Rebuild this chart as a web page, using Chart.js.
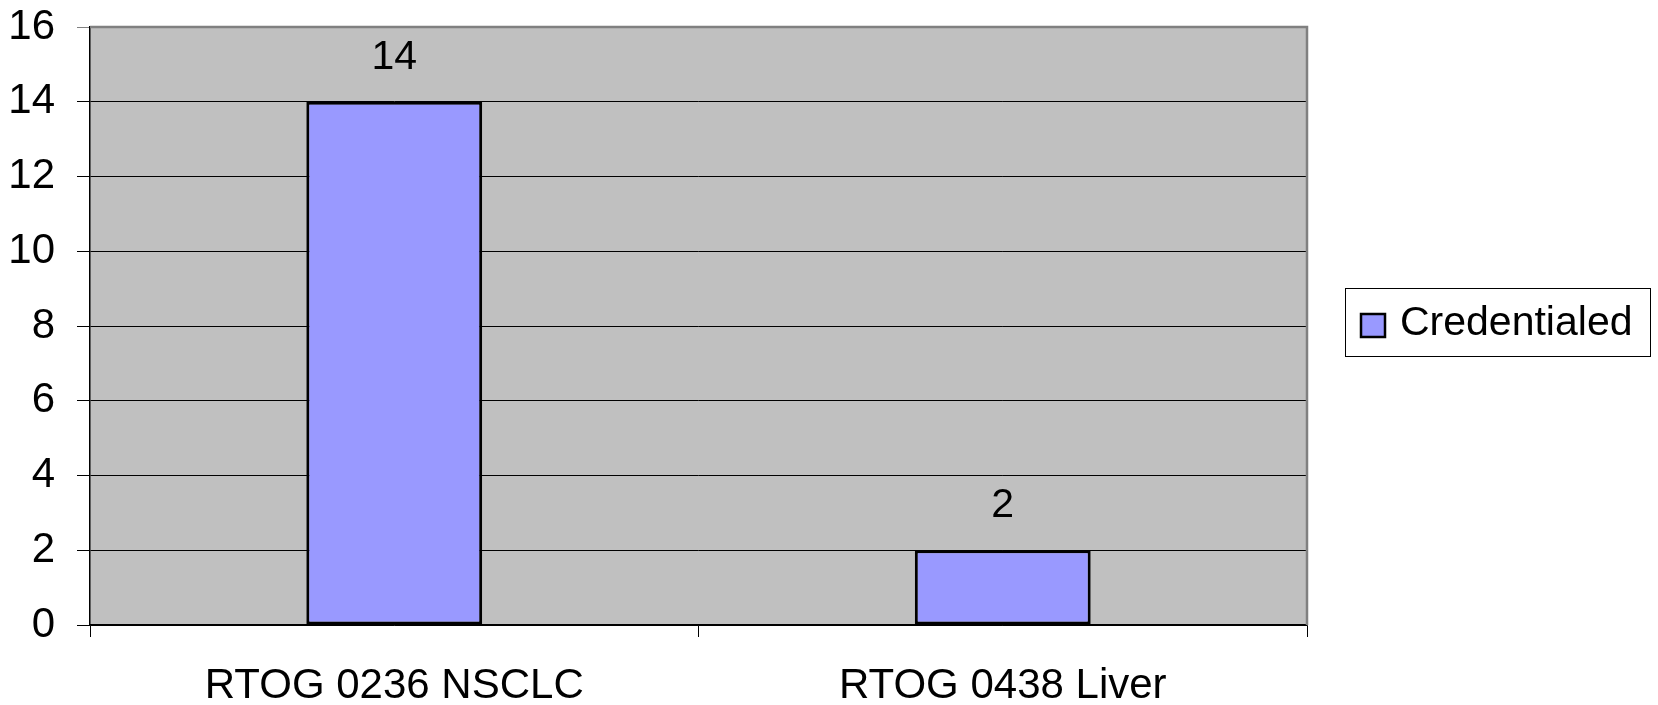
<!DOCTYPE html>
<html lang="en">
<head>
<meta charset="utf-8">
<title>Credentialed</title>
<script src="https://cdn.jsdelivr.net/npm/chart.js"></script>
<style>
	body{ margin: 0; background: #fff; }
	#myChart{ display: block; }
</style>
</head>
<body>
<canvas id="myChart" width="1658" height="705"></canvas>
<script>
// data
const labels = ['RTOG 0236 NSCLC', 'RTOG 0438 Liver'];
const credentialed = [14, 2];
const seriesName = 'Credentialed';
const yTicks = [0, 2, 4, 6, 8, 10, 12, 14, 16];

const FONT = "'Liberation Sans', Arial, sans-serif";

// grey plot area + grey top/right border
const plotBg = {
	id: 'plotBg',
	beforeDraw(chart){
		const {ctx, chartArea: a} = chart;
		ctx.save();
		ctx.fillStyle = '#c0c0c0';
		ctx.fillRect(a.left, a.top, a.right - a.left, a.bottom - a.top);
		ctx.restore();
	},
	afterDraw(chart){
		const {ctx, chartArea: a} = chart;
		ctx.save();
		ctx.strokeStyle = '#808080';
		ctx.lineWidth = 2.5;
		ctx.beginPath();
		ctx.moveTo(a.left, a.top);
		ctx.lineTo(a.right, a.top);
		ctx.lineTo(a.right, a.bottom);
		ctx.stroke();
		ctx.restore();
	}
};

// value labels above bars
const valueLabels = {
	id: 'valueLabels',
	afterDatasetsDraw(chart){
		const ctx = chart.ctx;
		const meta = chart.getDatasetMeta(0);
		ctx.save();
		ctx.font = '41px ' + FONT;
		ctx.fillStyle = '#000';
		ctx.textAlign = 'center';
		ctx.textBaseline = 'alphabetic';
		meta.data.forEach(function(bar, i){
			ctx.fillText(credentialed[i], bar.x, bar.y - 33);
		});
		ctx.restore();
	}
};

// boxed legend on the right
const boxLegend = {
	id: 'boxLegend',
	afterDraw(chart){
		const ctx = chart.ctx;
		ctx.save();
		ctx.strokeStyle = '#000';
		ctx.lineWidth = 1;
		ctx.strokeRect(1345.5, 288.5, 305, 68);
		ctx.fillStyle = '#9999ff';
		ctx.fillRect(1360, 313, 26, 25);
		ctx.lineWidth = 2.5;
		ctx.strokeRect(1361, 314, 24, 23);
		ctx.font = '41px ' + FONT;
		ctx.fillStyle = '#000';
		ctx.textBaseline = 'alphabetic';
		ctx.fillText(seriesName, 1400, 335);
		ctx.restore();
	}
};

const chart_data = {
	labels: labels,
	datasets: [{
		label: seriesName,
		data: credentialed,
		backgroundColor: '#9999ff',
		borderColor: '#000',
		borderWidth: 3,
		borderSkipped: false,
		barPercentage: 1,
		categoryPercentage: 0.289
	}]
};

const config = {
	type: 'bar',
	data: chart_data,
	options: {
		responsive: false,
		animation: false,
		layout: { padding: { left: 0, right: 351, top: 27, bottom: 0 } },
		plugins: {
			legend: { display: false },
			tooltip: { enabled: false }
		},
		scales: {
			x: {
				offset: true,
				grid: {
					offset: true,
					drawOnChartArea: false,
					tickLength: 12,
					color: '#000'
				},
				border: { color: '#000', width: 1.5 },
				ticks: {
					color: '#000',
					font: { family: FONT, size: 42 },
					padding: 24,
					maxRotation: 0
				},
				afterFit(scale){
					scale.height = 80;
					scale.paddingLeft = 0;
					scale.paddingRight = 0;
				}
			},
			y: {
				min: 0,
				max: 16,
				afterBuildTicks(scale){
					scale.ticks = yTicks.map(function(v){ return {value: v}; });
				},
				grid: {
					color: function(c){ return c.tick && c.tick.value === 16 ? '#808080' : '#000'; },
					tickLength: 13,
					lineWidth: 1
				},
				border: { color: '#000', width: 1.5 },
				ticks: {
					color: '#000',
					font: { family: FONT, size: 42 },
					padding: 22
				},
				afterFit(scale){
					scale.width = 90;
					scale.paddingTop = 0;
					scale.paddingBottom = 0;
				}
			}
		}
	},
	plugins: [plotBg, valueLabels, boxLegend]
};

var myChart = new Chart(document.getElementById('myChart'), config);
</script>
</body>
</html>
